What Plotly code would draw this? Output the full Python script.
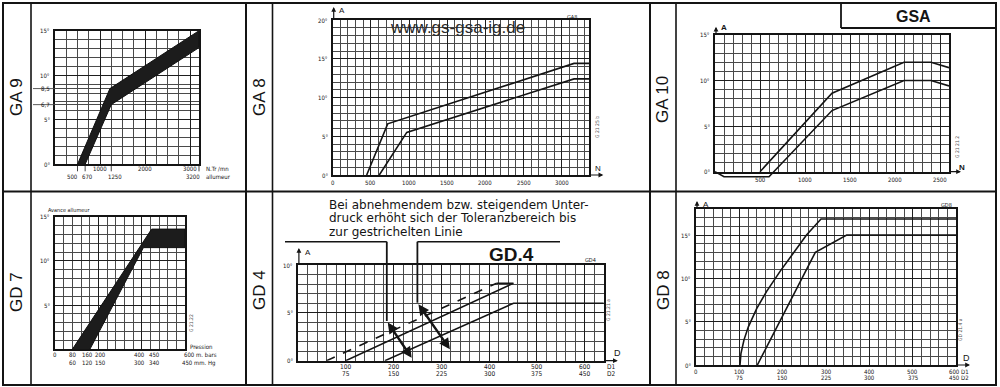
import plotly.graph_objects as go

W, H = 1000, 387
INK = "#141414"
GRID_MAJ = "#1e1e1e"
GRID_MIN = "#4a4a4a"
FONT = "Liberation Sans, Arial, sans-serif"
NARROW = "Liberation Sans Narrow, DejaVu Sans Condensed, Liberation Sans, sans-serif"

# ------------------------------------------------------------------ data
# GA 9 (advance band, degrees vs rpm)
ga9_band_x = [500, 1220, 3200, 3200, 1250, 670]
ga9_band_y = [0, 8.5, 15, 13.1, 6.7, 0]
ga9_xlab_row1 = [1000, 2000, 3000]
ga9_xlab_row2 = [500, 670, 1250, 3200]
ga9_ylab_vals = [0, 5, 6.7, 8.5, 10, 15]
ga9_ylab_text = ["0°", "5°", "6,7", "8,5", "10°", "15°"]

# GA 8
ga8_upper_x = [445, 720, 3160, 3360]
ga8_upper_y = [0, 6.6, 14.4, 14.4]
ga8_lower_x = [610, 970, 3160, 3360]
ga8_lower_y = [0, 5.5, 12.4, 12.4]
ga8_xlab = [0, 500, 1000, 1500, 2000, 2500, 3000]
ga8_ylab = [0, 5, 10, 15, 20]

# GA 10
ga10_upper_x = [500, 1300, 2100, 2400, 2600]
ga10_upper_y = [0, 8.6, 12.0, 12.0, 11.4]
ga10_lower_x = [0, 100, 600, 1300, 2100, 2400, 2600]
ga10_lower_y = [0, -0.55, -0.55, 6.7, 10.0, 10.0, 9.4]
ga10_xlab = [500, 1000, 1500, 2000, 2500]
ga10_ylab = [0, 5, 10, 15]

# GD 7 (advance band vs depression)
gd7_band_x = [80, 446, 600, 600, 408, 161]
gd7_band_y = [0, 13.6, 13.6, 11.5, 11.5, 0]
gd7_xlab_row1 = [0, 80, 160, 200, 400, 450, 600]
gd7_xtxt_row1 = ["0", "80", "160", "200", "400", "450", "600 m. bars"]
gd7_xlab_row2 = [80, 160, 200, 400, 450, 600]
gd7_xtxt_row2 = ["60", "120", "150", "300", "340", "450 mm. Hg"]
gd7_ylab = [5, 10, 15]

# GD 4
gd4_dash_x = [60, 416]
gd4_dash_y = [0, 8.1]
gd4_upper_x = [100, 451, 416]
gd4_upper_y = [0, 8.1, 8.1]
gd4_lower_x = [182, 451, 640]
gd4_lower_y = [0, 6.0, 6.0]
gd4_xlab = [100, 200, 300, 400, 500, 600]
gd4_xtxt_d1 = ["100", "200", "300", "400", "500", "600"]
gd4_xtxt_d2 = ["75", "150", "225", "300", "375", "450"]
gd4_ylab = [0, 5, 10]
gd4_arrow_left = [(186, 4.15), (238, 0.3)]
gd4_arrow_right = [(250, 6.06), (318, 1.2)]

# GD 8
gd8_upper_x = [101.5, 103.8, 110.8, 120.8, 140, 163, 194, 224.6, 255, 288.5, 600]
gd8_upper_y = [0, 1.35, 2.9, 4.4, 6.5, 8.5, 10.8, 12.9, 15, 16.85, 16.85]
gd8_lower_x = [141.5, 275.4, 347.7, 600]
gd8_lower_y = [0, 13.0, 15.0, 15.0]
gd8_xlab = [100, 200, 300, 400, 500, 600]
gd8_xtxt_d1 = ["100", "200", "300", "400", "500", "600"]
gd8_xtxt_d2 = ["75", "150", "225", "300", "375", "450"]
gd8_ylab = [0, 5, 10, 15]

# ------------------------------------------------------------------ layout geometry (pixels)
panels = {
    1: dict(box=(55, 199, 30.7, 164.3), xr=(0, 3200), yr=(0, 15)),      # GA 9
    2: dict(box=(332.7, 589.3, 20, 175), xr=(0, 3360), yr=(0, 20)),     # GA 8
    3: dict(box=(715, 949, 34.8, 171.7), xr=(0, 2600), yr=(0, 15)),     # GA 10
    4: dict(box=(55, 185, 216.7, 349.3), xr=(0, 600), yr=(0, 15)),      # GD 7
    5: dict(box=(297.9, 603.8, 265, 360.7), xr=(0, 640), yr=(0, 10)),   # GD 4
    6: dict(box=(696, 956, 209, 365), xr=(0, 600), yr=(0, 18)),         # GD 8
}


def to_px(i, x, y):
    p = panels[i]
    l, r, t, b = p["box"]
    x0, x1 = p["xr"]
    y0, y1 = p["yr"]
    return l + (x - x0) / (x1 - x0) * (r - l), b - (y - y0) / (y1 - y0) * (b - t)


def PX(px):
    return px / W


def PY(py):
    return 1 - py / H


def rng(a, b, s):
    out = []
    v = a
    while v <= b + 1e-9:
        out.append(round(v, 6))
        v += s
    return out


grid = {
    1: dict(xM=[0, 1000, 2000, 3000], xm=rng(0, 3200, 250), yM=[0, 5, 10, 15], ym=rng(0, 15, 1) + [6.7, 8.5]),
    2: dict(xM=rng(0, 3000, 500), xm=rng(0, 3300, 100), yM=rng(0, 20, 5), ym=rng(0, 20, 1)),
    3: dict(xM=rng(0, 2500, 500), xm=rng(0, 2600, 100), yM=rng(0, 15, 5), ym=rng(0, 15, 1)),
    4: dict(xM=[0, 200, 400, 600], xm=rng(0, 600, 40), yM=[0, 5, 10, 15], ym=rng(0, 15, 1)),
    5: dict(xM=rng(0, 600, 100), xm=rng(0, 640, 20), yM=[0, 5, 10], ym=rng(0, 10, 1)),
    6: dict(xM=rng(0, 600, 100), xm=rng(0, 600, 20), yM=[0, 5, 10, 15], ym=rng(0, 18, 1)),
}

fig = go.Figure()
layout = dict(width=W, height=H, margin=dict(l=0, r=0, t=0, b=0), autosize=False,
              paper_bgcolor="white", plot_bgcolor="rgba(0,0,0,0)", showlegend=False)


def axname(c, i):
    return f"{c}axis" if i == 1 else f"{c}axis{i}"


def ref(c, i):
    return c if i == 1 else f"{c}{i}"


for i, p in panels.items():
    l, r, t, b = p["box"]
    g = grid[i]
    common = dict(showline=True, mirror=True, linecolor=INK, linewidth=1.5, showgrid=True,
                  gridcolor=GRID_MAJ, gridwidth=1.3, tickmode="array", showticklabels=False,
                  ticks="", zeroline=False, fixedrange=True)
    layout[axname("x", i)] = dict(domain=[PX(l), PX(r)], range=list(p["xr"]), anchor=ref("y", i),
                                  tickvals=g["xM"],
                                  minor=dict(tickmode="array", tickvals=g["xm"], showgrid=True,
                                             gridcolor=GRID_MIN, gridwidth=0.8, ticks=""),
                                  **common)
    layout[axname("y", i)] = dict(domain=[PY(b), PY(t)], range=list(p["yr"]), anchor=ref("x", i),
                                  tickvals=g["yM"],
                                  minor=dict(tickmode="array", tickvals=g["ym"], showgrid=True,
                                             gridcolor=GRID_MIN, gridwidth=0.8, ticks=""),
                                  **common)
    # make sure every grid subplot is instantiated
    fig.add_trace(go.Scatter(x=[None], y=[None], mode="lines", xaxis=ref("x", i), yaxis=ref("y", i),
                             hoverinfo="skip", showlegend=False))

# hidden extended subplot for GA 10 (curve dips below 0)
l3, r3, t3, b3 = panels[3]["box"]
_, ext_bottom = to_px(3, 0, -0.7)
layout["xaxis7"] = dict(domain=[PX(l3), PX(r3)], range=list(panels[3]["xr"]), anchor="y7", visible=False, fixedrange=True)
layout["yaxis7"] = dict(domain=[PY(ext_bottom), PY(t3)], range=[-0.7, 15], anchor="x7", visible=False, fixedrange=True)


def line_trace(x, y, i, dash="solid", width=1.6):
    fig.add_trace(go.Scatter(x=x, y=y, mode="lines", xaxis=ref("x", i), yaxis=ref("y", i),
                             line=dict(color=INK, width=width, dash=dash), hoverinfo="skip"))


def band_trace(x, y, i):
    fig.add_trace(go.Scatter(x=x, y=y, mode="lines", fill="toself", fillcolor="#1c1c1c",
                             xaxis=ref("x", i), yaxis=ref("y", i),
                             line=dict(color="#111", width=1), hoverinfo="skip"))


band_trace(ga9_band_x, ga9_band_y, 1)
line_trace(ga8_upper_x, ga8_upper_y, 2)
line_trace(ga8_lower_x, ga8_lower_y, 2)
line_trace(ga10_upper_x, ga10_upper_y, 7)
line_trace(ga10_lower_x, ga10_lower_y, 7)
band_trace(gd7_band_x, gd7_band_y, 4)
line_trace(gd4_dash_x, gd4_dash_y, 5, dash="dash", width=1.6)
line_trace(gd4_upper_x, gd4_upper_y, 5)
line_trace(gd4_lower_x, gd4_lower_y, 5)
line_trace(gd8_upper_x, gd8_upper_y, 6)
line_trace(gd8_lower_x, gd8_lower_y, 6)

annotations = []
shapes = []


def text(t, x, y, size=7, anchor="center", vanchor="middle", angle=0, font=NARROW, color=INK, bold=False):
    if bold:
        t = f"<b>{t}</b>"
    annotations.append(dict(text=t, x=PX(x), y=PY(y), xref="paper", yref="paper", showarrow=False,
                            xanchor=anchor, yanchor=vanchor, textangle=angle,
                            font=dict(size=size, family=font, color=color)))


def xlabel(i, vals, texts, row_py, size=6.5, anchor="center", shifts=None):
    for k, (v, t) in enumerate(zip(vals, texts)):
        px, _ = to_px(i, v, 0)
        dx = shifts[k] if shifts else 0
        text(t, px + dx, row_py, size=size, anchor=anchor)


def ylabel(i, vals, texts, size=6.5, dx=3):
    l = panels[i]["box"][0]
    for v, t in zip(vals, texts):
        _, py = to_px(i, 0, v)
        text(t, l - dx, py, size=size, anchor="right")


def hline(x0, x1, y, w=2, color=INK):
    shapes.append(dict(type="line", xref="paper", yref="paper", x0=PX(x0), x1=PX(x1), y0=PY(y), y1=PY(y),
                       line=dict(color=color, width=w)))


def vline(x, y0, y1, w=2, color=INK):
    shapes.append(dict(type="line", xref="paper", yref="paper", x0=PX(x), x1=PX(x), y0=PY(y0), y1=PY(y1),
                       line=dict(color=color, width=w)))


def arrow(x_head, y_head, ax, ay, width=1.2, size=0.8):
    annotations.append(dict(text="", x=PX(x_head), y=PY(y_head), xref="paper", yref="paper",
                            showarrow=True, ax=ax, ay=ay, axref="pixel", ayref="pixel",
                            arrowhead=2, arrowsize=size, arrowwidth=width, arrowcolor=INK))


# ------------------------------------------------------------------ frame
hline(2, 997, 3)
hline(2, 997, 385)
hline(2, 997, 191.5)
vline(3, 2, 386)
vline(996, 2, 386)
vline(246, 2, 386)
vline(650, 2, 386)
vline(31, 2, 386, w=1.6)
vline(272.5, 2, 386, w=1.6)
vline(676, 2, 386, w=1.6)
# GSA box
vline(841, 3, 28, w=1.8)
hline(841, 996, 28, w=1.8)
text("GSA", 913, 16, size=16, font=FONT, bold=True)

# panel titles (rotated)
for t, x, y in [("GA 9", 16, 97), ("GA 8", 259, 97), ("GA 10", 663, 100),
                ("GD 7", 16, 292), ("GD 4", 259, 290), ("GD 8", 663, 290)]:
    text(t, x, y, size=17, angle=-90, font=FONT)

# ------------------------------------------------------------------ GA 9 labels
ylabel(1, ga9_ylab_vals, ga9_ylab_text, size=6)
xlabel(1, ga9_xlab_row1, [str(v) for v in ga9_xlab_row1], 168.3, size=6)
xlabel(1, ga9_xlab_row2, [str(v) for v in ga9_xlab_row2], 176.5, size=6, shifts=[-5, 2, 4, -6])
text("N.Tr /mn", 204, 168.3, size=6, anchor="left")
text("allumeur", 204, 176.5, size=6, anchor="left")
for v in [6.7, 8.5]:
    _, py = to_px(1, 0, v)
    hline(33, panels[1]["box"][0], py, w=0.9, color=GRID_MIN)
for v in ga9_xlab_row2:
    px, py = to_px(1, v, 0)
    vline(px, py, py + 7, w=0.8)

# ------------------------------------------------------------------ GA 8 labels
ylabel(2, ga8_ylab, [f"{v}°" for v in ga8_ylab], size=6)
xlabel(2, ga8_xlab, [str(v) for v in ga8_xlab], 182.7, size=6)
text("www.gs-gsa-ig.de", 457.7, 28, size=17, font=FONT, color="#2a2a2a")
text("GA8", 571.7, 17.3, size=5.5)
text("G 21 25 b", 597, 127, size=5, angle=-90, color="#555")
l2, r2, t2, b2 = panels[2]["box"]
arrow(l2 + 1, t2 - 13, 0, 13)
text("A", l2 + 4, t2 - 10, size=8, anchor="left", font=FONT)
arrow(r2 + 14, b2, -14, 0)
text("N", 598, b2 - 7, size=8, font=FONT)

# ------------------------------------------------------------------ GA 10 labels
ylabel(3, ga10_ylab, [f"{v}°" for v in ga10_ylab], size=6)
xlabel(3, ga10_xlab, [str(v) for v in ga10_xlab], 180, size=6)
arrow(l3 + 1, t3 - 8, 0, 8)
text("A", l3 + 4, t3 - 7, size=8, anchor="left", font=FONT, bold=True)
arrow(r3 + 12, b3, -12, 0)
text("N", 962, b3 - 4, size=8, font=FONT, bold=True)
text("G 21 21 2", 957, 147, size=5, angle=-90, color="#555")

# ------------------------------------------------------------------ GD 7 labels
ylabel(4, gd7_ylab, [f"{v}°" for v in gd7_ylab], size=6)
xlabel(4, gd7_xlab_row1[:-1], gd7_xtxt_row1[:-1], 354.3, size=6, shifts=[0, 0, -2, 2, -2, 2])
xlabel(4, gd7_xlab_row2[:-1], gd7_xtxt_row2[:-1], 362.7, size=6, shifts=[0, -2, 2, -2, 2])
px600, _ = to_px(4, 600, 0)
text(gd7_xtxt_row1[-1], px600 - 3, 354.3, size=6, anchor="left")
text(gd7_xtxt_row2[-1], px600 - 5, 362.7, size=6, anchor="left")
text("Pression", px600 + 3, 346.7, size=6, anchor="left")
text("Avance allumeur", 46, 210, size=5.5, anchor="left")
text("G 21.22", 191, 323, size=5, angle=-90, color="#555")

# ------------------------------------------------------------------ GD 4 labels
ylabel(5, gd4_ylab, [f"{v}°" for v in gd4_ylab], size=6)
xlabel(5, gd4_xlab, gd4_xtxt_d1, 366.5, size=6.5)
xlabel(5, gd4_xlab, gd4_xtxt_d2, 373.5, size=6.5)
l5, r5, t5, b5 = panels[5]["box"]
text("D1", r5 + 8, 366.5, size=6.5)
text("D2", r5 + 8, 373.5, size=6.5)
arrow(l5 + 1, t5 - 17, 0, 17)
text("A", l5 + 5, t5 - 13, size=8, anchor="left", font=FONT)
arrow(r5 + 14, b5, -14, 0)
text("D", 617, b5 - 8, size=9, font=FONT)
text("GD4", 590, 260, size=5.5)
text("G 21.21 a", 608, 310, size=5, angle=-90, color="#555")
text("GD.4", 511, 254, size=19, font=FONT, bold=True)
for t, y in [("Bei abnehmendem bzw. steigendem Unter-", 205),
             ("druck erhöht sich der Toleranzbereich bis", 218.3),
             ("zur gestrichelten Linie", 231.7)]:
    text(t, 326.7, y, size=12, anchor="left", font="DejaVu Sans, sans-serif")

# callouts
(al0x, al0y), (al1x, al1y) = [to_px(5, *p) for p in gd4_arrow_left]
(ar0x, ar0y), (ar1x, ar1y) = [to_px(5, *p) for p in gd4_arrow_right]
hline(285, al0x, 241.7, w=1.6)
vline(al0x, 241.7, al0y, w=1.8)
hline(ar0x, 560, 241.7, w=1.6)
vline(ar0x, 241.7, ar0y, w=1.8)
for (x0, y0), (x1, y1) in [((al0x, al0y), (al1x, al1y)), ((ar0x, ar0y), (ar1x, ar1y))]:
    annotations.append(dict(text="", x=PX(x1), y=PY(y1), xref="paper", yref="paper", showarrow=True,
                            ax=x0 - x1, ay=y0 - y1, axref="pixel", ayref="pixel", arrowside="end+start",
                            arrowhead=2, startarrowhead=2, arrowsize=0.9, startarrowsize=0.9,
                            arrowwidth=2.4, arrowcolor=INK))

# ------------------------------------------------------------------ GD 8 labels
ylabel(6, gd8_ylab, [f"{v}°" for v in gd8_ylab], size=6)
xlabel(6, [0], ["0"], 371.5, size=6)
xlabel(6, gd8_xlab, gd8_xtxt_d1, 371.5, size=6, shifts=[0, 0, 0, 0, 0, -2])
xlabel(6, gd8_xlab, gd8_xtxt_d2, 377, size=6, shifts=[0, 0, 0, 0, 0, -2])
l6, r6, t6, b6 = panels[6]["box"]
text("D1", r6 + 9, 371.5, size=6)
text("D2", r6 + 9, 377, size=6)
arrow(l6 + 1, t6 - 8, 0, 8)
text("A", l6 + 5, t6 - 5, size=8, anchor="left", font=FONT)
arrow(r6 + 14, b6, -14, 0)
text("D", 966, b6 - 7, size=9, font=FONT)
text("GD8", 946, 205, size=5.5)
text("GD 21.4 a", 960, 330, size=5, angle=-90, color="#555")

layout["annotations"] = annotations
layout["shapes"] = shapes
fig.update_layout(**layout)
fig.write_html("out.html")
